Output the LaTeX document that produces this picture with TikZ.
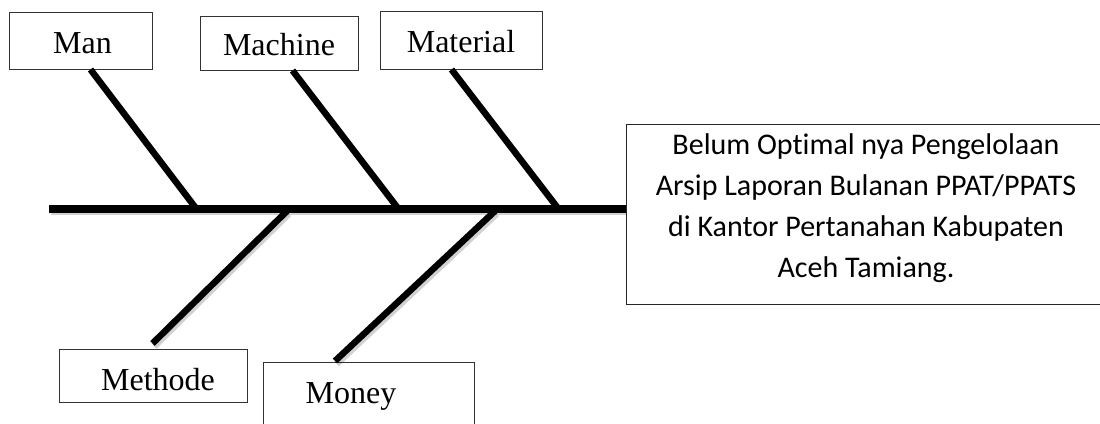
\documentclass[tikz,border=0pt]{standalone}
\usepackage{fontspec}
\setmainfont{Liberation Serif}
\newfontfamily\carlitofont[Ligatures=NoCommon]{Carlito}
\usetikzlibrary{calc}
\tikzset{
  catbox/.style={draw=black!80, line width=1pt, rectangle, inner sep=0pt, text height=25pt, text depth=0pt, font=\fontsize{32}{36}\selectfont},
  bone/.style={line width=6.5pt, black, line cap=butt},
  spine/.style={line width=8pt, black, line cap=butt},
  shade/.style={line width=6pt, black, opacity=0.18, line cap=butt},
}
\begin{document}
\begin{tikzpicture}[x=1pt, y=-1pt]
\useasboundingbox (0,0) rectangle (1100,423);
\clip (0,0) rectangle (1100,423);
% boxes
\node[catbox, minimum width=143pt, minimum height=57pt] (man) at (80.5,40.5) {\hspace*{4pt}Man};
\node[catbox, minimum width=158pt, minimum height=54pt] (machine) at (279,43) {Machine};
\node[catbox, minimum width=162pt, minimum height=58pt, text height=24pt] (material) at (461,40) {Material};
\node[catbox, minimum width=188pt, minimum height=53pt, text height=29pt] (methode) at (153,375.5) {\hspace*{10pt}Methode};
\node[catbox, minimum width=211pt, minimum height=80pt, anchor=north west] (money) at (263,362) {};
\node[font=\fontsize{32}{36}\selectfont, inner sep=0pt, anchor=base] (moneytext) at (351,403) {Money};
\node[draw=black!85, line width=1.2pt, rectangle, minimum width=482pt, minimum height=180pt, anchor=north west] (effect) at (626,124) {};
\node[font=\carlitofont\fontsize{30}{41}\selectfont, align=center, inner sep=0pt, anchor=base] (effecttext) at (866,277)
  {Belum Optimal nya Pengelolaan\\Arsip Laporan Bulanan PPAT/PPATS\\di Kantor Pertanahan Kabupaten\\Aceh Tamiang.};
% spine coordinates
\coordinate (tail) at (49,209);
\coordinate (head) at (effect.west |- tail);
\coordinate (manS) at (195,207);
\coordinate (machineS) at (397,207);
\coordinate (materialS) at (557,207);
\coordinate (methodeS) at (287,211);
\coordinate (moneyS) at (495,211);
% shadows
\draw[shade] ([shift={(2,3)}]tail) -- ([shift={(0,3)}]head);
\draw[shade] ([shift={(2,3)}]$(man.south west)+(82,0)$) -- ([shift={(2,3)}]manS);
\draw[shade] ([shift={(2,3)}]$(machine.south west)+(93,0)$) -- ([shift={(2,3)}]machineS);
\draw[shade] ([shift={(2,3)}]$(material.south west)+(72,0)$) -- ([shift={(2,3)}]materialS);
\draw[shade] ([shift={(2,3)}]methodeS) -- ([shift={(2,3)}]$(methode.north west)+(94,-5)$);
\draw[shade] ([shift={(2,3)}]moneyS) -- ([shift={(2,3)}]$(money.north west)+(72,-1)$);
% bones
\draw[bone] ($(man.south west)+(82,0)$) -- (manS);
\draw[bone] ($(machine.south west)+(93,0)$) -- (machineS);
\draw[bone] ($(material.south west)+(72,0)$) -- (materialS);
\draw[bone] (methodeS) -- ($(methode.north west)+(94,-5)$);
\draw[bone] (moneyS) -- ($(money.north west)+(72,-1)$);
\draw[spine] (tail) -- (head);
\end{tikzpicture}
\end{document}
